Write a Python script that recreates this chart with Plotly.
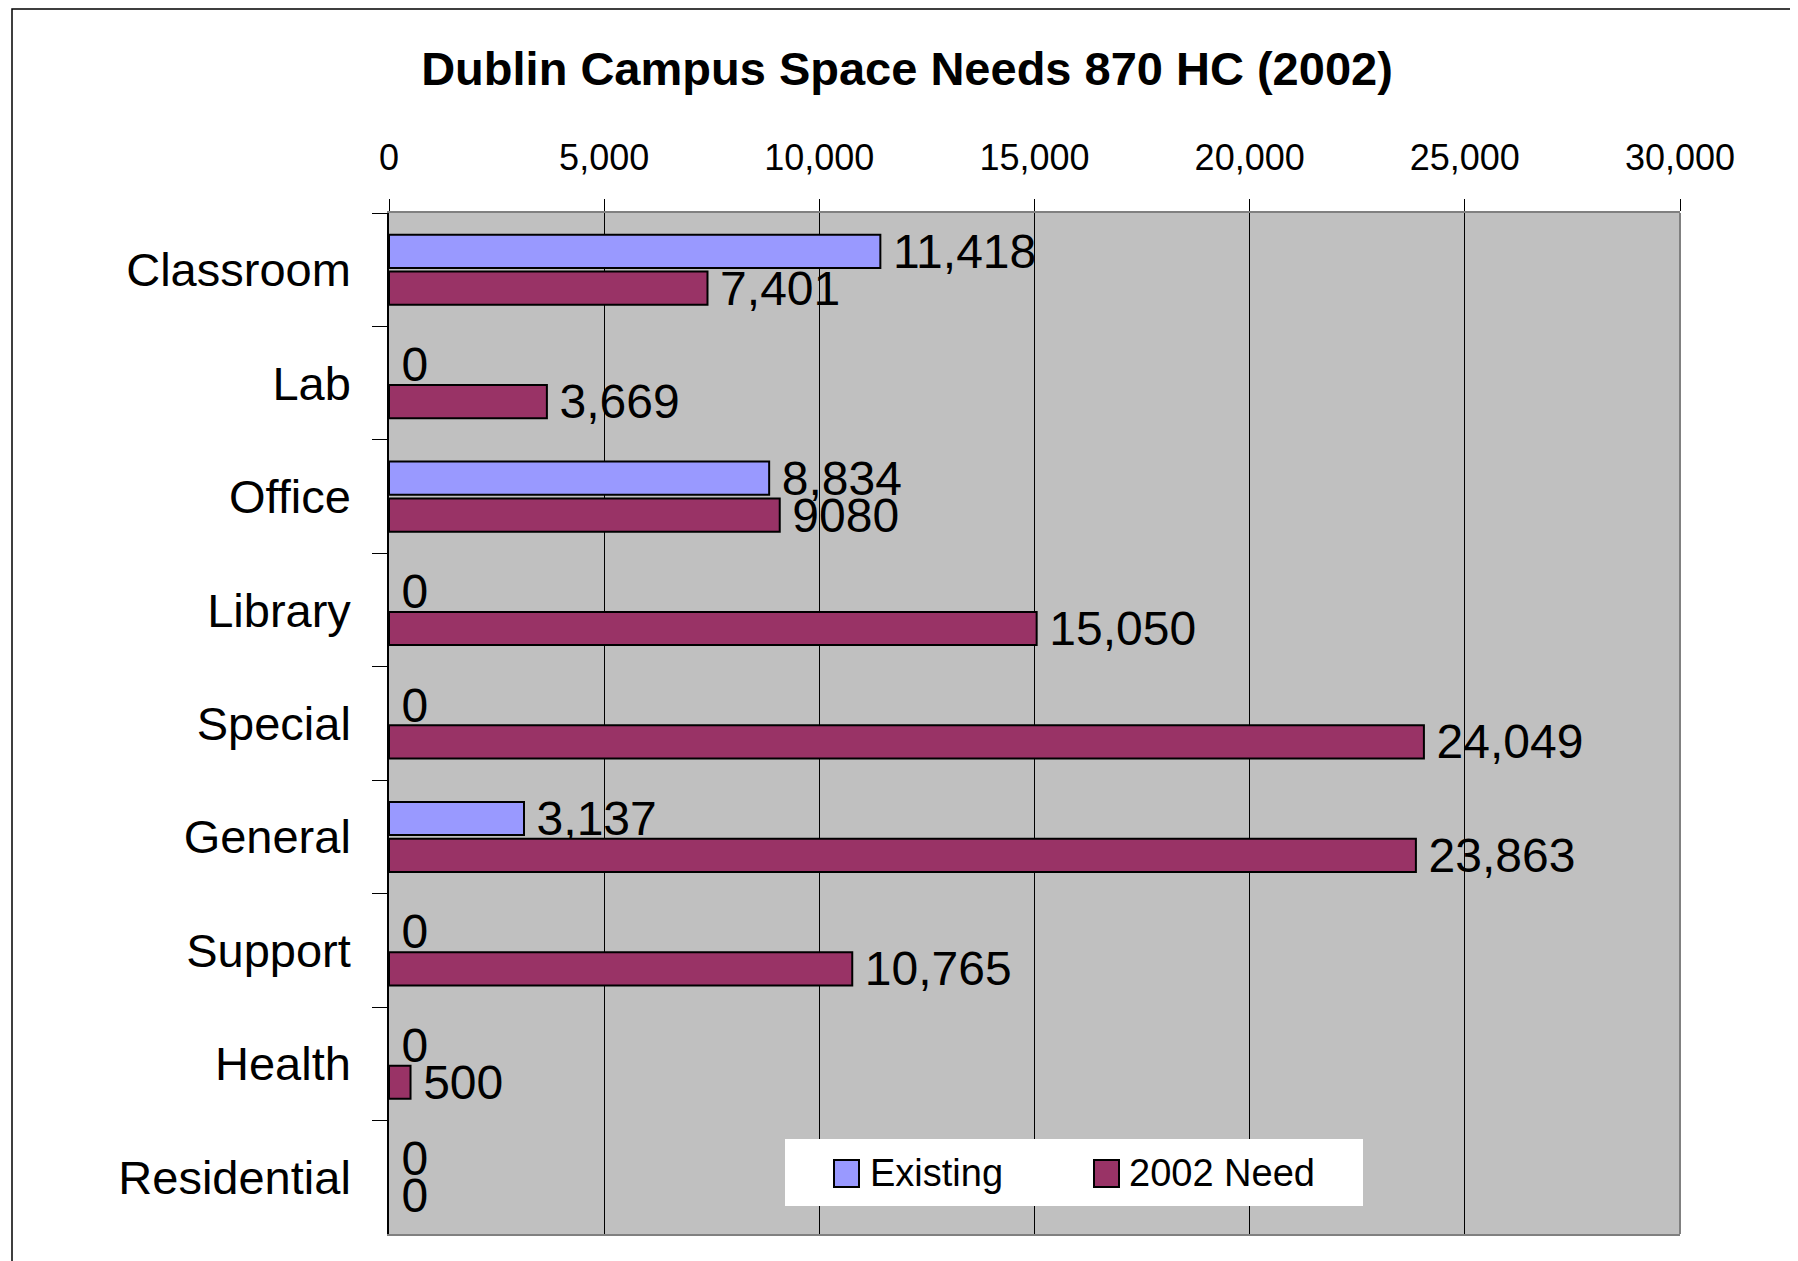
import plotly.graph_objects as go

categories = ["Classroom", "Lab", "Office", "Library", "Special", "General", "Support", "Health", "Residential"]
existing = [11418, 0, 8834, 0, 0, 3137, 0, 0, 0]
need_2002 = [7401, 3669, 9080, 15050, 24049, 23863, 10765, 500, 0]
existing_labels = ["11,418", "0", "8,834", "0", "0", "3,137", "0", "0", "0"]
need_labels = ["7,401", "3,669", "9080", "15,050", "24,049", "23,863", "10,765", "500", "0"]
x_ticks = [0, 5000, 10000, 15000, 20000, 25000, 30000]
series_names = ["Existing", "2002 Need"]
series_colors = ["#9999FF", "#993366"]

FONT = "Liberation Sans, Arial, sans-serif"
OFF = 8  # page body margin
W, H = 1790, 1253
L_PAGE, T_PAGE = 389, 213
PW, PH = 1291, 1021
L, T = L_PAGE - OFF, T_PAGE - OFF
R = W - L - PW
B = H - T - PH


def px_x(px):
    return (px - L_PAGE) / PW


def px_y(py):
    return (T_PAGE + PH - py) / PH


fig = go.Figure()
for name, vals, labels, col in [
    (series_names[0], existing, existing_labels, series_colors[0]),
    (series_names[1], need_2002, need_labels, series_colors[1]),
]:
    fig.add_trace(go.Bar(
        y=categories, x=vals, orientation="h", name=name, showlegend=False,
        marker=dict(color=col,
                    line=dict(color="black", width=[2 if v > 0 else 0 for v in vals])),
        text=["\u2009" + s for s in labels], textposition="outside",
        textfont=dict(family=FONT, size=48, color="black"),
        constraintext="none", cliponaxis=False,
    ))

shapes = [
    # outer chart frame
    dict(type="rect", xref="paper", yref="paper",
         x0=px_x(12), x1=px_x(W + 80), y0=px_y(H + 80), y1=px_y(9),
         line=dict(color="black", width=1.5), layer="below"),
    # right plot border
    dict(type="line", xref="paper", yref="paper", x0=1, x1=1, y0=0, y1=1,
         line=dict(color="#808080", width=2)),
    # legend box
    dict(type="rect", xref="paper", yref="paper",
         x0=px_x(785), x1=px_x(1363), y0=px_y(1206), y1=px_y(1139),
         fillcolor="white", line=dict(width=0)),
    # legend swatches
    dict(type="rect", xref="paper", yref="paper",
         x0=px_x(834), x1=px_x(859), y0=px_y(1187), y1=px_y(1160),
         fillcolor=series_colors[0], line=dict(color="black", width=2)),
    dict(type="rect", xref="paper", yref="paper",
         x0=px_x(1094), x1=px_x(1119), y0=px_y(1187), y1=px_y(1160),
         fillcolor=series_colors[1], line=dict(color="black", width=2)),
]

annotations = [
    dict(text=series_names[0], xref="paper", yref="paper",
         x=px_x(868), y=px_y(1173), xanchor="left", yanchor="middle",
         showarrow=False, font=dict(family=FONT, size=38, color="black")),
    dict(text=series_names[1], xref="paper", yref="paper",
         x=px_x(1127), y=px_y(1173), xanchor="left", yanchor="middle",
         showarrow=False, font=dict(family=FONT, size=38, color="black")),
]

fig.update_layout(
    width=W, height=H,
    margin=dict(l=L, r=R, t=T, b=B, autoexpand=False),
    paper_bgcolor="white", plot_bgcolor="#C0C0C0",
    barmode="group", bargap=0.35, bargroupgap=0.1,
    font=dict(family=FONT, color="black"),
    title=dict(text="<b>Dublin Campus Space Needs 870 HC (2002)</b>",
               x=(907 - OFF) / W, xanchor="center",
               y=1 - (69 - OFF) / H, yanchor="middle",
               font=dict(family=FONT, size=47, color="black")),
    xaxis=dict(side="top", range=[0, 30000], tickvals=x_ticks, tickformat=",",
               tickfont=dict(family=FONT, size=36, color="black"),
               ticks="outside", ticklen=12, tickcolor="black", tickwidth=1,
               ticklabelstandoff=15,
               showgrid=True, gridcolor="black", gridwidth=1,
               showline=True, linecolor="#808080", linewidth=2, mirror=True,
               zeroline=False, fixedrange=True),
    yaxis=dict(autorange="reversed", type="category",
               tickfont=dict(family=FONT, size=47, color="black"),
               ticks="outside", ticklen=15, tickcolor="black", tickwidth=1,
               tickson="boundaries", ticklabelstandoff=27,
               showgrid=False, showline=True, linecolor="black", linewidth=1.5,
               zeroline=False, fixedrange=True),
    shapes=shapes,
    annotations=annotations,
)

fig.write_html("out.html")
